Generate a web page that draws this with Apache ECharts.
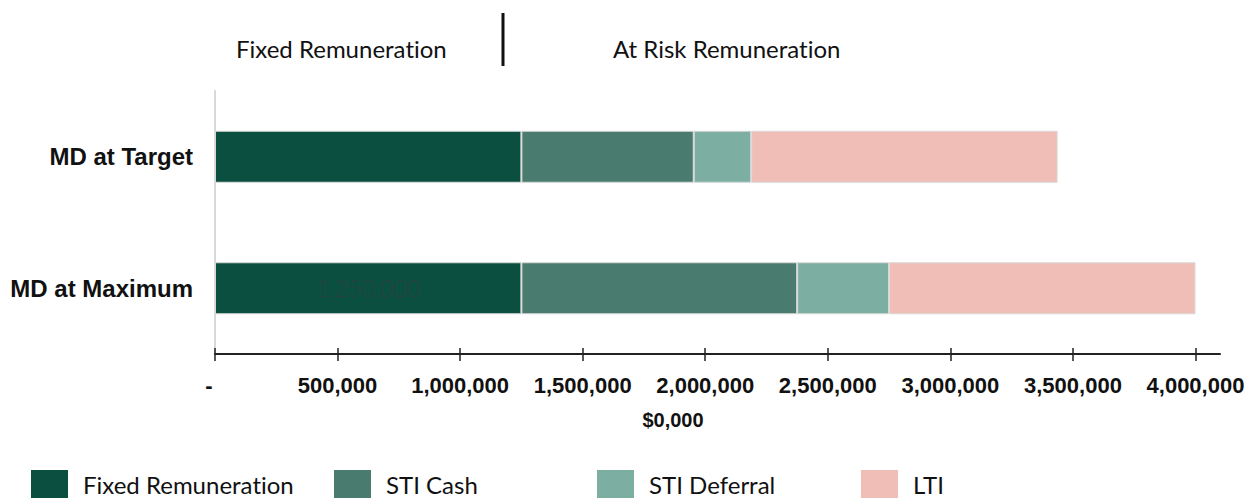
<!DOCTYPE html>
<html>
<head>
<meta charset="utf-8">
<script src="https://cdn.jsdelivr.net/npm/echarts@6/dist/echarts.min.js"></script>
<style>
html,body{margin:0;padding:0;background:#fff;}
#chart{width:1250px;height:498px;font-variant-ligatures:none;}
#chart text{font-variant-ligatures:none;}
</style>
</head>
<body>
<div id="chart"></div>
<script>
const categories = ['MD at Target', 'MD at Maximum'];
const fixedRemuneration = [1250000, 1250000];
const stiCash = [703125, 1125000];
const stiDeferral = [234375, 375000];
const lti = [1250000, 1250000];
const xTickValues = [0, 500000, 1000000, 1500000, 2000000, 2500000, 3000000, 3500000, 4000000];
const seriesNames = ['Fixed Remuneration', 'STI Cash', 'STI Deferral', 'LTI'];
const seriesColors = ['#0b4f40', '#4a7b6f', '#7cafa2', '#f0beb6'];
const headerLeft = 'Fixed Remuneration';
const headerRight = 'At Risk Remuneration';
const axisTitle = '$0,000';

const chart = echarts.init(document.getElementById('chart'), null, {renderer: 'svg'});

function fmt(v){
  if (v === 0) return '-  ';
  return v.toString().replace(/\B(?=(\d{3})+(?!\d))/g, ',');
}

const headFont = {fontFamily: 'Lato', fontSize: 24, color: '#111', fontWeight: 'normal'};
const legendLefts = [31, 334, 597, 861];

const seriesData = [fixedRemuneration, stiCash, stiDeferral, lti];

const series = seriesData.map((arr, i) => ({
  name: seriesNames[i],
  type: 'bar',
  stack: 'total',
  barWidth: 52,
  itemStyle: {color: seriesColors[i], borderColor: '#d8d8d8', borderWidth: 1},
  data: arr.map((v, j) => {
    if (i === 0 && j === 1) {
      return {value: v, label: {show: true, position: 'inside', formatter: p => fmt(p.value),
        fontFamily: 'Lato', fontWeight: 300, fontSize: 23, color: 'rgba(55,60,58,0.7)'}};
    }
    return v;
  })
}));

const legends = seriesNames.map((n, i) => ({
  data: [n],
  left: legendLefts[i],
  top: 470,
  padding: 0,
  itemWidth: 37,
  itemHeight: 28,
  itemGap: 0,
  icon: 'rect',
  selectedMode: false,
  itemStyle: {borderWidth: 0},
  textStyle: {fontFamily: 'Lato', fontSize: 24, lineHeight: 24, color: '#111', padding: [0, 0, 0, 10]}
}));

chart.setOption({
  animation: false,
  title: [
    {text: headerLeft, left: 236, top: 36, padding: 0, textStyle: headFont},
    {text: headerRight, left: 613, top: 36, padding: 0, textStyle: headFont},
    {text: axisTitle, left: 668, textAlign: 'center', top: 405,
      textStyle: {fontFamily: 'Liberation Sans', fontWeight: 'bold', fontSize: 20, color: '#111'}}
  ],
  graphic: [{type: 'line', shape: {x1: 503, y1: 13, x2: 503, y2: 66}, style: {stroke: '#111', lineWidth: 3}}],
  legend: legends,
  grid: {left: 215, right: 30, top: 91, bottom: 144, containLabel: false},
  xAxis: [{
    type: 'value', min: 0, max: 4100000, interval: 500000,
    axisLine: {show: true, lineStyle: {color: '#222', width: 2}},
    axisTick: {show: true, inside: false, length: 7, customValues: xTickValues, lineStyle: {color: '#222', width: 1.5}},
    splitLine: {show: false},
    axisLabel: {customValues: xTickValues, formatter: fmt, margin: 20,
      fontFamily: 'Liberation Sans', fontWeight: 'bold', fontSize: 22, color: '#111'}
  }, {
    type: 'value', min: 0, max: 4100000, interval: 500000, position: 'bottom',
    axisLine: {show: false},
    axisTick: {show: true, inside: true, length: 6, customValues: xTickValues, lineStyle: {color: '#222', width: 1.5}},
    splitLine: {show: false},
    axisLabel: {show: false}
  }],
  yAxis: {
    type: 'category', data: categories, inverse: true,
    axisLine: {show: true, lineStyle: {color: '#d9d9d9', width: 2}},
    axisTick: {show: false},
    axisLabel: {margin: 22, fontFamily: 'Liberation Sans', fontWeight: 'bold', fontSize: 24, color: '#111'}
  },
  series: series
});
</script>
</body>
</html>
